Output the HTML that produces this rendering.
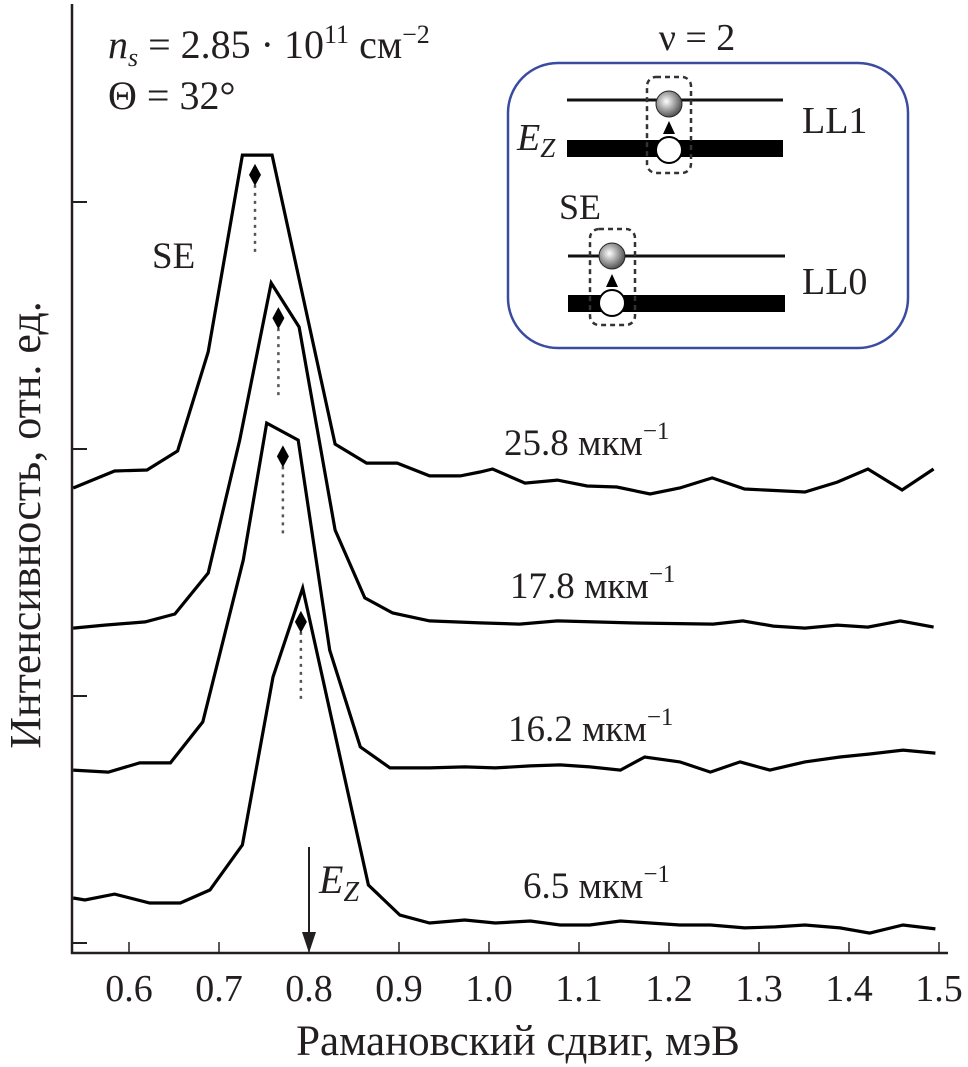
<!DOCTYPE html>
<html><head><meta charset="utf-8"><style>
html,body{margin:0;padding:0;background:#fff;}
svg{display:block;}
text{font-family:"Liberation Serif",serif;fill:#231f20;}
</style></head><body>
<svg id="chart" width="968" height="1067" viewBox="0 0 968 1067" xmlns="http://www.w3.org/2000/svg">
<g id="axes"></g>
<g id="curves"></g>
<g id="marks"></g>
<g>
 <text x="108" y="58" font-size="40"><tspan font-style="italic">n</tspan><tspan font-style="italic" font-size="26" dy="8">s</tspan><tspan dy="-8"> = 2.85 · 10</tspan><tspan font-size="26" dy="-15">11</tspan><tspan dy="15"> см</tspan><tspan font-size="26" dy="-15">−2</tspan></text>
 <text x="108" y="109" font-size="40">Θ = 32°</text>
 <text x="152" y="268" font-size="37">SE</text>
 <text x="504" y="455" font-size="37">25.8 мкм<tspan font-size="25" dy="-16">−1</tspan></text>
 <text x="510" y="598" font-size="37">17.8 мкм<tspan font-size="25" dy="-16">−1</tspan></text>
 <text x="508" y="741" font-size="37">16.2 мкм<tspan font-size="25" dy="-16">−1</tspan></text>
 <text x="523" y="898" font-size="37">6.5 мкм<tspan font-size="25" dy="-16">−1</tspan></text>
 <line x1="309" y1="847" x2="309" y2="940" stroke="#231f20" stroke-width="2"/>
 <polygon points="302,932 316,932 309,953" fill="#231f20"/>
 <text x="319" y="893" font-size="40" font-style="italic">E<tspan font-size="28" dy="8">Z</tspan></text>
 <text x="518" y="1055" font-size="43" text-anchor="middle">Рамановский сдвиг, мэВ</text>
 <text transform="translate(40,525) rotate(-90)" font-size="44" text-anchor="middle">Интенсивность, отн. ед.</text>
</g>
<g>
 <text x="697" y="50" font-size="38" text-anchor="middle">ν = 2</text>
 <rect x="508" y="63" width="400" height="285" rx="50" fill="none" stroke="#3a4ba0" stroke-width="2.5"/>
 <line x1="567" y1="100" x2="783" y2="100" stroke="#111" stroke-width="3"/>
 <rect x="567" y="140" width="216" height="17" fill="#000"/>
 <rect x="647" y="77" width="44" height="96" rx="9" fill="none" stroke="#333" stroke-width="2.5" stroke-dasharray="5,4"/>
 <defs><radialGradient id="g1" cx="0.4" cy="0.4" r="0.6"><stop offset="0" stop-color="#fff"/><stop offset="1" stop-color="#555"/></radialGradient></defs>
 <circle cx="669" cy="104" r="13" fill="url(#g1)" stroke="#222"/>
 <polygon points="663,134 675,134 669,121" fill="#000"/>
 <circle cx="669" cy="150" r="13" fill="#fff" stroke="#000" stroke-width="2"/>
 <text x="517" y="150" font-size="38" font-style="italic">E<tspan font-size="27" dy="7">Z</tspan></text>
 <text x="802" y="133" font-size="38">LL1</text>
 <text x="559" y="219" font-size="36">SE</text>
 <line x1="568" y1="256" x2="785" y2="256" stroke="#111" stroke-width="3"/>
 <rect x="568" y="295" width="217" height="17" fill="#000"/>
 <rect x="590" y="229" width="45" height="96" rx="9" fill="none" stroke="#333" stroke-width="2.5" stroke-dasharray="5,4"/>
 <circle cx="612" cy="256" r="13" fill="url(#g1)" stroke="#222"/>
 <polygon points="606,287 618,287 612,274" fill="#000"/>
 <circle cx="612" cy="303" r="13" fill="#fff" stroke="#000" stroke-width="2"/>
 <text x="802" y="294" font-size="38">LL0</text>
</g>
</svg>
<script>
const xTicks = [0.6,0.7,0.8,0.9,1.0,1.1,1.2,1.3,1.4,1.5];
const xTickLabels = ["0.6","0.7","0.8","0.9","1.0","1.1","1.2","1.3","1.4","1.5"];
const yTicks = [0,1,2,3];
const seriesNames = ["25.8","17.8","16.2","6.5"];
const x258 = [0.538,0.584,0.620,0.654,0.688,0.726,0.759,0.829,0.864,0.898,0.934,0.968,0.990,1.004,1.040,1.076,1.109,1.142,1.179,1.212,1.248,1.284,1.351,1.387,1.421,1.459,1.494];
const y258 = [1.842,1.911,1.915,1.992,2.393,3.190,3.190,2.020,1.943,1.943,1.891,1.891,1.907,1.919,1.862,1.874,1.850,1.846,1.818,1.842,1.883,1.838,1.826,1.866,1.919,1.834,1.919];
const x178 = [0.538,0.573,0.618,0.651,0.688,0.723,0.758,0.789,0.829,0.862,0.893,0.934,0.990,1.034,1.076,1.157,1.249,1.282,1.316,1.351,1.387,1.421,1.457,1.494];
const y178 = [1.275,1.287,1.300,1.332,1.498,2.036,2.672,2.494,1.672,1.397,1.336,1.304,1.296,1.291,1.304,1.296,1.291,1.304,1.283,1.275,1.287,1.279,1.304,1.279];
const x162 = [0.538,0.577,0.612,0.646,0.682,0.727,0.753,0.788,0.823,0.857,0.890,0.934,0.973,1.007,1.046,1.079,1.112,1.146,1.173,1.212,1.246,1.279,1.312,1.351,1.390,1.423,1.460,1.496];
const y162 = [0.700,0.692,0.729,0.729,0.895,1.551,2.105,2.036,1.186,0.794,0.709,0.709,0.713,0.709,0.717,0.721,0.713,0.700,0.753,0.733,0.692,0.733,0.700,0.733,0.753,0.765,0.781,0.769];
const x65 = [0.538,0.551,0.584,0.623,0.657,0.690,0.726,0.760,0.793,0.866,0.901,0.934,0.973,1.007,1.046,1.079,1.112,1.146,1.179,1.212,1.246,1.284,1.318,1.351,1.390,1.423,1.460,1.496];
const y65 = [0.182,0.174,0.198,0.162,0.162,0.215,0.397,1.077,1.437,0.235,0.113,0.081,0.093,0.081,0.089,0.073,0.073,0.089,0.081,0.073,0.073,0.061,0.065,0.073,0.061,0.040,0.073,0.057];
const peakX = [0.740,0.766,0.771,0.791];
const peakY = [3.11,2.53,1.97,1.30];
const peakLen = [0.33,0.33,0.33,0.33];

const NS = "http://www.w3.org/2000/svg";
function sx(v){ return 129 + (v-0.6)*900; }
function sy(v){ return 943 - v*247; }
function mk(tag, parent){ const e=document.createElementNS(NS,tag); parent.appendChild(e); return e; }

const axes = document.getElementById('axes');
let a = mk('line',axes);


a.setAttribute('x1',72);a.setAttribute('y1',4);a.setAttribute('x2',72);a.setAttribute('y2',954);
a.setAttribute('stroke','#231f20');a.setAttribute('stroke-width','2.5');
a = mk('line',axes);


a.setAttribute('x1',71);a.setAttribute('y1',953);a.setAttribute('x2',sx(1.51));a.setAttribute('y2',953);
a.setAttribute('stroke','#231f20');a.setAttribute('stroke-width','2.5');
xTicks.forEach((t,i)=>{
  const l = mk('line',axes);
  
  
  l.setAttribute('x1',sx(t));l.setAttribute('x2',sx(t));l.setAttribute('y1',953);l.setAttribute('y2',942);
  l.setAttribute('stroke','#231f20');l.setAttribute('stroke-width','1.5');
  const tx = mk('text',axes);
  
  
  tx.setAttribute('x',sx(t));tx.setAttribute('y',1001);tx.setAttribute('font-size','38');tx.setAttribute('text-anchor','middle');
  tx.textContent = xTickLabels[i];
});
yTicks.forEach(t=>{
  const l = mk('line',axes);
  
  
  l.setAttribute('x1',72);l.setAttribute('x2',87);l.setAttribute('y1',sy(t));l.setAttribute('y2',sy(t));
  l.setAttribute('stroke','#231f20');l.setAttribute('stroke-width','2');
});
const curves = document.getElementById('curves');
[[x258,y258],[x178,y178],[x162,y162],[x65,y65]].forEach((s,i)=>{
  const p = mk('polyline',curves);
  
  
  p.setAttribute('points', s[0].map((x,j)=>sx(x).toFixed(1)+','+sy(s[1][j]).toFixed(1)).join(' '));
  p.setAttribute('fill','none');p.setAttribute('stroke','#000');p.setAttribute('stroke-width','3.2');p.setAttribute('stroke-linejoin','miter');
});
const marks = document.getElementById('marks');
peakX.forEach((px,i)=>{
  const cx = sx(px), cy = sy(peakY[i]);
  const l = mk('line',marks);
  
  
  l.setAttribute('x1',cx);l.setAttribute('x2',cx);l.setAttribute('y1',cy+10);l.setAttribute('y2',sy(peakY[i]-peakLen[i]));
  l.setAttribute('stroke','#555');l.setAttribute('stroke-width','2.5');l.setAttribute('stroke-dasharray','3,5');
  const d = mk('polygon',marks);
  
  
  d.setAttribute('points',`${cx},${cy-11} ${cx+6},${cy} ${cx},${cy+11} ${cx-6},${cy}`);
  d.setAttribute('fill','#000');
});
</script>
</body></html>
